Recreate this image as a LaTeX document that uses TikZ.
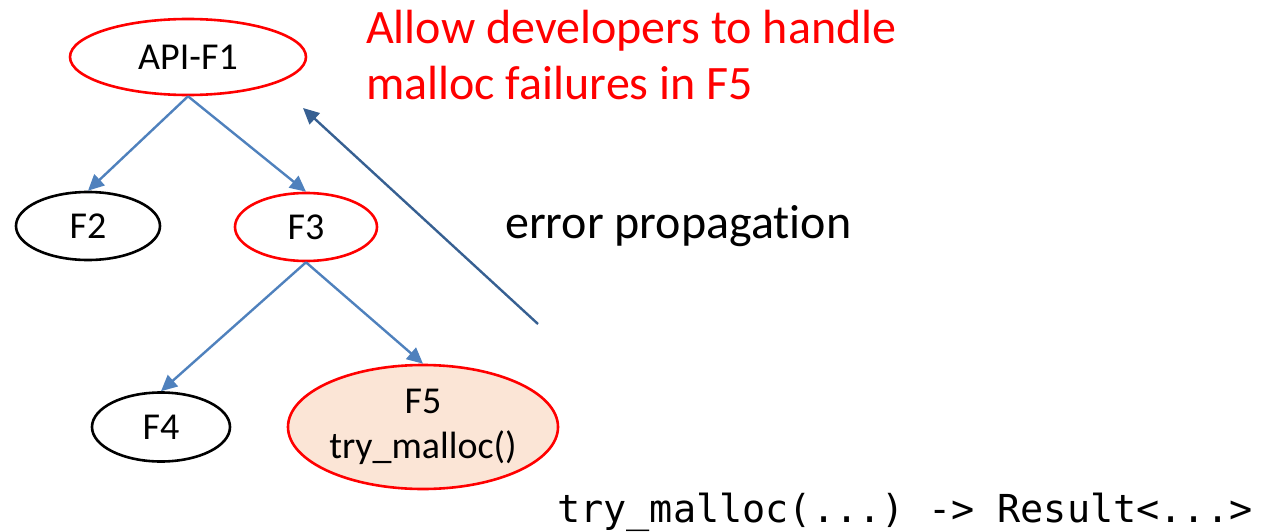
\documentclass[tikz,border=0pt]{standalone}
\usepackage{fontspec}
\setmainfont{Carlito}[Ligatures={NoCommon,NoRequired,NoContextual}]
\setmonofont{DejaVu Sans Mono}
\usetikzlibrary{arrows.meta,shapes.geometric}
\definecolor{callblue}{RGB}{79,129,189}
\definecolor{errblue}{RGB}{55,96,146}
\definecolor{hotfill}{RGB}{251,229,214}
\tikzset{
  fn/.style={ellipse, draw=black, line width=2.6pt, inner sep=0pt,
             font=\fontsize{38}{45}\selectfont, align=center},
  hot/.style={fn, draw=red},
  call/.style={draw=callblue, line width=2.4pt, -{Triangle[length=16pt,width=15pt]}},
  errflow/.style={draw=errblue, line width=2.4pt, -{Triangle[length=16pt,width=15pt]}},
  note/.style={inner sep=0pt, font=\fontsize{48}{56}\selectfont}
}
\begin{document}
\begin{tikzpicture}[x=1pt,y=-1pt]
\useasboundingbox (0,0) rectangle (1281,532);
% call tree
\node[hot, minimum width=236pt, minimum height=76pt] (f1) at (188,57) {API-F1};
\node[fn,  minimum width=144pt, minimum height=68pt] (f2) at (88,226) {F2};
\node[hot, minimum width=142pt, minimum height=68pt] (f3) at (306,227) {F3};
\node[fn,  minimum width=138pt, minimum height=69pt] (f4) at (161,427) {F4};
\node[hot, fill=hotfill, minimum width=270pt, minimum height=124pt] (f5) at (423,427) {F5\\try\_malloc()};
\draw[call] (f1.south) -- (f2.north);
\draw[call] (f1.south) -- (f3.north);
\draw[call] (f3.south) -- (f4.north);
\draw[call] (f3.south) -- (f5.north);
% error propagation back up the tree
\coordinate (errfrom) at (538,324);
\coordinate (errto) at (303,108);
\draw[errflow] (errfrom) -- (errto);
\node[note, anchor=base west] (errlbl) at (505,238) {error propagation};
\node[note, text=red, anchor=north west, align=left] (goal) at (366,10)
  {Allow developers to handle\\malloc failures in F5};
\node[inner sep=0pt, anchor=base west, font=\ttfamily\fontsize{38.5}{46}\selectfont] (sig) at (557,522)
  {try\_malloc(...) -> Result<...>};
\end{tikzpicture}
\end{document}
